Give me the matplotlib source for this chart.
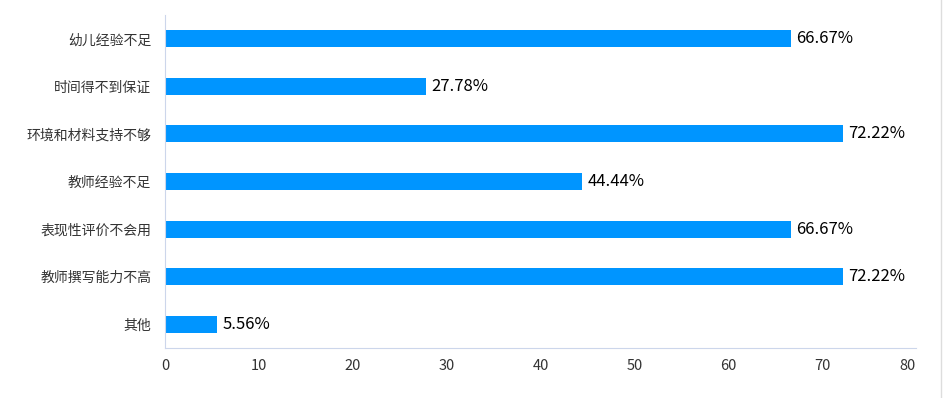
import numpy as np
import matplotlib
matplotlib.use('Agg')
import matplotlib.pyplot as plt
from matplotlib.lines import Line2D

plt.rcParams['font.family'] = ['Noto Sans CJK SC', 'DejaVu Sans']

# data, top to bottom as shown
categories = ['幼儿经验不足', '时间得不到保证', '环境和材料支持不够', '教师经验不足',
              '表现性评价不会用', '教师撰写能力不高', '其他']
values = [66.67, 27.78, 72.22, 44.44, 66.67, 72.22, 5.56]
xticks = [0, 10, 20, 30, 40, 50, 60, 70, 80]

bar_color = '#0095ff'
axis_color = '#ccd6eb'
text_color = '#333333'

fig = plt.figure(figsize=(9.46, 3.98), dpi=100)
ax = fig.add_axes([0.1744, 0.1256, 0.9683 - 0.1744, 0.9623 - 0.1256])

y = np.arange(len(categories))
ax.barh(y, values, height=0.36, color=bar_color)
for yi, v in zip(y, values):
    ax.text(v + 0.6, yi, '%.2f%%' % v, va='center', ha='left', fontsize=12, color='black')

ax.set_ylim(len(categories) - 0.5, -0.5)
ax.set_xlim(0, 80)
ax.set_yticks(y)
ax.set_yticklabels(categories, fontsize=10, color=text_color)
ax.set_xticks(xticks)
ax.set_xticklabels([str(t) for t in xticks], fontsize=10.5, color=text_color)
ax.tick_params(axis='both', length=0)
ax.tick_params(axis='x', pad=8)
ax.tick_params(axis='y', pad=10)
# last label is pulled inside the plot edge
ax.get_xticklabels()[-1].set_horizontalalignment('right')
ax.get_xticklabels()[-1].set_x(80)

for s in ['top', 'right']:
    ax.spines[s].set_visible(False)
ax.spines['left'].set_color(axis_color)
ax.spines['bottom'].set_color(axis_color)

# thin border line on the right edge of the image
fig.add_artist(Line2D([941/946, 941/946], [0, 1], transform=fig.transFigure, color='#dddddd', lw=1))

fig.savefig('out.png', dpi=100)
